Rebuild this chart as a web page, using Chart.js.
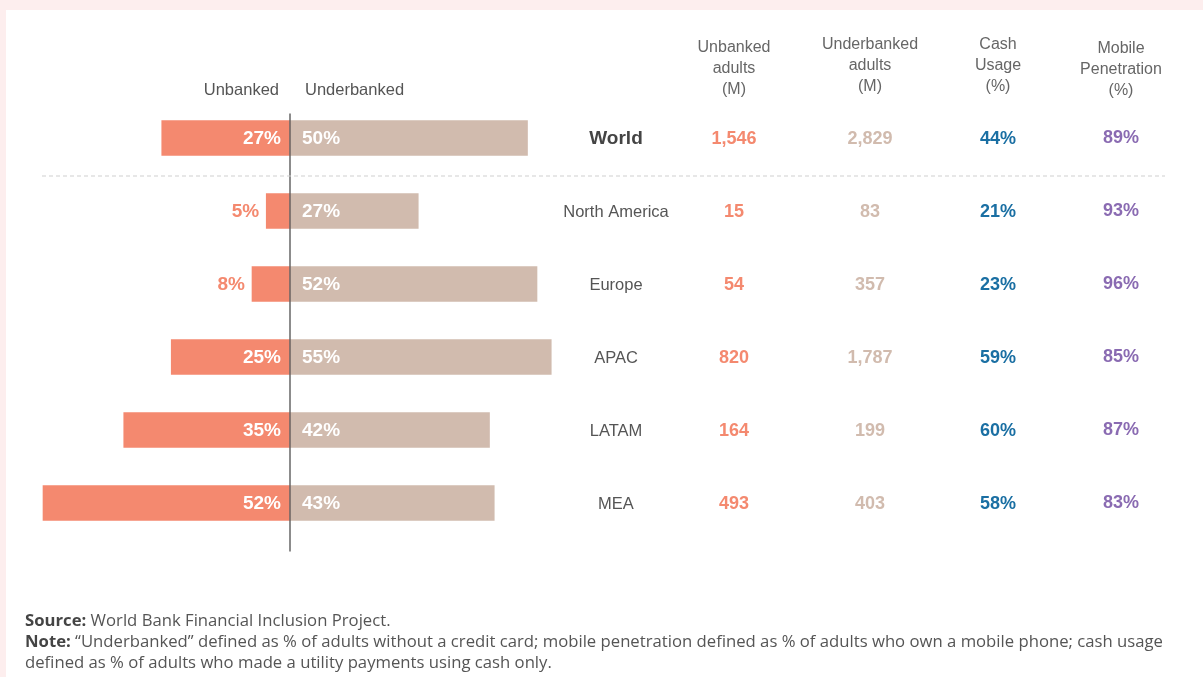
<!DOCTYPE html>
<html>
<head>
<meta charset="utf-8">
<script src="https://cdn.jsdelivr.net/npm/chart.js@4.4.1/dist/chart.umd.min.js"></script>
<style>
  html, body { margin: 0; padding: 0; background: #fff; }
  body { width: 1203px; height: 677px; position: relative; overflow: hidden; }
  .band-top { position: absolute; left: 0; top: 0; width: 1203px; height: 10px; background: #fdeeee; }
  .band-left { position: absolute; left: 0; top: 0; width: 6px; height: 677px; background: #fdeeee; }
  #wrap { position: absolute; left: 0; top: 0; width: 1203px; height: 677px; }
  .notes {
    position: absolute; left: 25px; top: 609px; width: 1175px; white-space: nowrap;
    font-family: "Open Sans", sans-serif; font-size: 16.7px; line-height: 21px; color: #555;
  }
  .notes b { color: #444; }
</style>
</head>
<body>
<div class="band-top"></div>
<div class="band-left"></div>
<div id="wrap"><canvas id="chart" width="1203" height="677"></canvas></div>
<div class="notes">
  <div><b>Source:</b> World Bank Financial Inclusion Project.</div>
  <div><b>Note:</b> “Underbanked” defined as % of adults without a credit card; mobile penetration defined as % of adults who own a mobile phone; cash usage<br>defined as % of adults who made a utility payments using cash only.</div>
</div>
<script>
// 数据
const regions = ['World', 'North America', 'Europe', 'APAC', 'LATAM', 'MEA'];
const unbankedPct = [27, 5, 8, 25, 35, 52];
const underbankedPct = [50, 27, 52, 55, 42, 43];
const unbankedAdults = [1546, 15, 54, 820, 164, 493];
const underbankedAdults = [2829, 83, 357, 1787, 199, 403];
const cashUsage = [44, 21, 23, 59, 60, 58];
const mobilePenetration = [89, 93, 96, 85, 87, 83];

const headUnbanked = ['Unbanked', 'adults', '(M)'];
const headUnderbanked = ['Underbanked', 'adults', '(M)'];
const headCash = ['Cash', 'Usage', '(%)'];
const headMobile = ['Mobile', 'Penetration', '(%)'];

const C_UNB = '#f4896f';
const C_UND = '#d1bbae';
const C_CASH = '#1a6fa3';
const C_MOB = '#8a6bb2';
const FONT = '"Liberation Sans", sans-serif';

const fmt = v => v.toLocaleString('en-US');

// 表格列：x 位置, 表头, 值, 颜色, 表头起始 y
const columns = [
  { x: 734, head: headUnbanked, vals: unbankedAdults.map(fmt), color: C_UNB, headY: 48, dy: 1 },
  { x: 870, head: headUnderbanked, vals: underbankedAdults.map(fmt), color: C_UND, headY: 45, dy: 1 },
  { x: 998, head: headCash, vals: cashUsage.map(v => v + '%'), color: C_CASH, headY: 45, dy: 1 },
  { x: 1121, head: headMobile, vals: mobilePenetration.map(v => v + '%'), color: C_MOB, headY: 49, dy: 0 }
];

const tablePlugin = {
  id: 'tablePlugin',
  afterDatasetsDraw(chart) {
    const ctx = chart.ctx;
    const xs = chart.scales.x, ys = chart.scales.y;
    const area = chart.chartArea;
    const x0 = xs.getPixelForValue(0);
    ctx.save();

    // 中轴线
    ctx.strokeStyle = '#666';
    ctx.lineWidth = 1.5;
    ctx.beginPath();
    ctx.moveTo(x0, area.top + 12);
    ctx.lineTo(x0, area.bottom + 12);
    ctx.stroke();

    // World 与地区之间的虚线
    const yDash = (ys.getPixelForValue(0) + ys.getPixelForValue(1)) / 2 + 1.5;
    ctx.strokeStyle = '#cfcfcf';
    ctx.lineWidth = 1;
    ctx.setLineDash([4, 3]);
    ctx.beginPath();
    ctx.moveTo(42, yDash);
    ctx.lineTo(1165, yDash);
    ctx.stroke();
    ctx.setLineDash([]);

    // 条形图图例标题
    ctx.fillStyle = '#555';
    ctx.font = '16.5px ' + FONT;
    ctx.textBaseline = 'middle';
    ctx.textAlign = 'right';
    ctx.fillText('Unbanked', x0 - 11, 90);
    ctx.textAlign = 'left';
    ctx.fillText('Underbanked', x0 + 15, 90);

    // 条形标签
    ctx.font = 'bold 19px ' + FONT;
    regions.forEach((r, i) => {
      const y = ys.getPixelForValue(i) + 1;
      const left = xs.getPixelForValue(-unbankedPct[i]);
      const t1 = unbankedPct[i] + '%';
      const w1 = ctx.measureText(t1).width;
      ctx.textAlign = 'right';
      if (x0 - left > w1 + 16) {
        ctx.fillStyle = '#fff';
        ctx.fillText(t1, x0 - 9, y);
      } else {
        ctx.fillStyle = C_UNB;
        ctx.fillText(t1, left - 7, y);
      }
      ctx.textAlign = 'left';
      ctx.fillStyle = '#fff';
      ctx.fillText(underbankedPct[i] + '%', x0 + 12, y);
    });

    // 地区名称
    regions.forEach((r, i) => {
      const y = ys.getPixelForValue(i) + 1;
      ctx.textAlign = 'center';
      if (i === 0) {
        ctx.font = 'bold 19px ' + FONT;
        ctx.fillStyle = '#444';
      } else {
        ctx.font = '16.5px ' + FONT;
        ctx.fillStyle = '#555';
      }
      ctx.fillText(r, 616, y);
    });

    // 表头与数值
    columns.forEach(col => {
      ctx.textAlign = 'center';
      ctx.font = '16px ' + FONT;
      ctx.fillStyle = '#666';
      col.head.forEach((line, k) => ctx.fillText(line, col.x, col.headY + k * 21));
      ctx.font = 'bold 18px ' + FONT;
      ctx.fillStyle = col.color;
      col.vals.forEach((v, i) => {
        ctx.fillText(v, col.x, ys.getPixelForValue(i) + col.dy);
      });
    });

    ctx.restore();
  }
};

new Chart(document.getElementById('chart'), {
  type: 'bar',
  data: {
    labels: regions,
    datasets: [
      { label: 'Unbanked', data: unbankedPct.map(v => -v), backgroundColor: C_UNB, borderWidth: 0, barThickness: 35 },
      { label: 'Underbanked', data: underbankedPct, backgroundColor: C_UND, borderWidth: 0, barThickness: 35 }
    ]
  },
  options: {
    indexAxis: 'y',
    responsive: false,
    animation: false,
    layout: { padding: { left: 5, right: 628, top: 101.5, bottom: 137.5 } },
    scales: {
      x: { stacked: true, min: -60, max: 60, display: false },
      y: { stacked: true, display: false }
    },
    plugins: { legend: { display: false }, tooltip: { enabled: false } }
  },
  plugins: [tablePlugin]
});
</script>
</body>
</html>
